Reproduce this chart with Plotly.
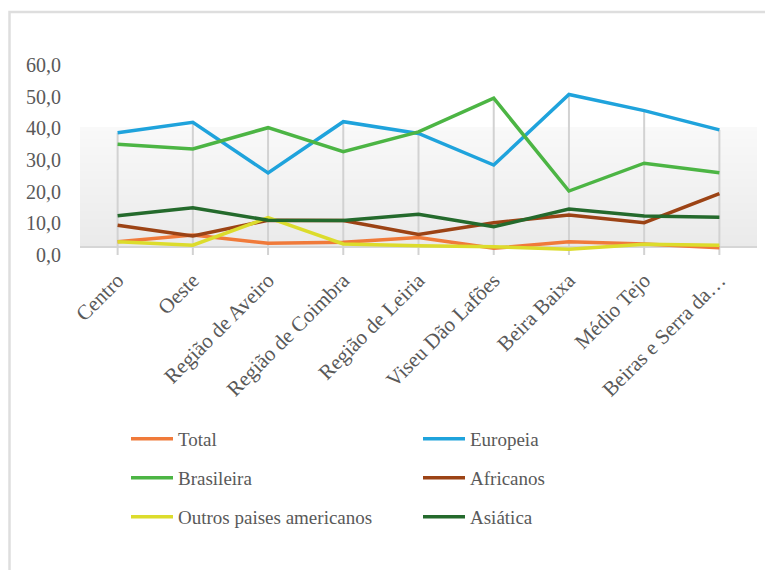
import plotly.graph_objects as go

categories = ["Centro", "Oeste", "Região de Aveiro", "Região de Coimbra", "Região de Leiria",
              "Viseu Dão Lafões", "Beira Baixa", "Médio Tejo", "Beiras e Serra da…"]
total = [4.2, 6.3, 3.7, 4.0, 5.5, 2.1, 4.2, 3.5, 2.3]
europeia = [38.6, 41.9, 25.9, 42.1, 38.4, 28.4, 50.7, 45.6, 39.5]
brasileira = [35.0, 33.5, 40.2, 32.6, 38.9, 49.5, 20.2, 29.0, 26.0]
africanos = [9.4, 6.0, 11.0, 10.9, 6.5, 10.2, 12.6, 10.2, 19.4]
outros = [4.2, 3.1, 11.8, 3.5, 2.9, 2.6, 1.8, 3.4, 3.1]
asiatica = [12.4, 14.9, 11.0, 10.9, 12.9, 8.9, 14.5, 12.3, 11.9]
y_tick_values = [0, 10, 20, 30, 40, 50, 60]
y_tick_labels = ["0,0", "10,0", "20,0", "30,0", "40,0", "50,0", "60,0"]

series = [
    ("Total", total, "#F07A3A", "legend"),
    ("Europeia", europeia, "#1FA3DC", "legend"),
    ("Brasileira", brasileira, "#4CB544", "legend2"),
    ("Africanos", africanos, "#9C4315", "legend2"),
    ("Outros paises americanos", outros, "#DCDC2C", "legend3"),
    ("Asiática", asiatica, "#246A2C", "legend3"),
]

# the page body adds an 8px offset; all layout pixel targets are in page coords minus 8
OFF = 8
W, H = 773, 570
plot_left, plot_right = 80 - OFF, 757 - OFF
plot_top, plot_bot = 59 - OFF, 257 - OFF
L, R, T, B = plot_left, W - plot_right, plot_top, H - plot_bot
plot_h = plot_bot - plot_top
px_per_unit = 31.667 / 10
zero_px = 255 - OFF
y_lo = -(plot_bot - zero_px) / px_per_unit
y_hi = (zero_px - plot_top) / px_per_unit

FONT = "Liberation Serif, Tinos, 'Times New Roman', DejaVu Serif, serif"
TXT = "#595959"

fig = go.Figure()

# drop lines from each category's maximum down to zero
all_series = [s[1] for s in series]
dx, dy = [], []
for i, c in enumerate(categories):
    m = max(v[i] for v in all_series)
    dx += [c, c, None]
    dy += [0, m, None]
fig.add_trace(go.Scatter(x=dx, y=dy, mode="lines", line=dict(color="#d2d2d2", width=2),
                         showlegend=False, hoverinfo="skip"))

for name, vals, col, lg in series:
    fig.add_trace(go.Scatter(x=categories, y=vals, mode="lines", name=name,
                             line=dict(color=col, width=3.5), legend=lg))

# gradient band (plot-area shading)
shapes = []
band_top_px, band_bot_px = 127 - OFF, 247 - OFF
n = 30
c_top = (249, 249, 249)
c_bot = (234, 234, 234)
for k in range(n):
    p0 = band_top_px + (band_bot_px - band_top_px) * k / n
    p1 = band_top_px + (band_bot_px - band_top_px) * (k + 1) / n
    f = (k + 0.5) / n
    rgb = tuple(int(round(c_top[j] + (c_bot[j] - c_top[j]) * f)) for j in range(3))
    shapes.append(dict(type="rect", xref="paper", yref="y", x0=0, x1=1,
                       y0=(zero_px - p1) / px_per_unit, y1=(zero_px - p0) / px_per_unit,
                       line=dict(width=0), fillcolor="rgb(%d,%d,%d)" % rgb, layer="below"))
fl = (zero_px - band_bot_px) / px_per_unit
shapes.append(dict(type="line", xref="paper", yref="y", x0=0, x1=1, y0=fl, y1=fl,
                   line=dict(color="#d6d6d6", width=2), layer="below"))


def px_to_paper_x(p):
    return (p - OFF - plot_left) / (plot_right - plot_left)


def px_to_paper_y(p):
    return (plot_bot - (p - OFF)) / plot_h


# outer chart border (cropped by the image at right/bottom)
shapes.append(dict(type="rect", xref="paper", yref="paper",
                   x0=px_to_paper_x(9.5), x1=px_to_paper_x(800),
                   y0=px_to_paper_y(600), y1=px_to_paper_y(12),
                   line=dict(color="#dedede", width=2.5), fillcolor="rgba(0,0,0,0)", layer="below"))

leg_common = dict(orientation="h", xanchor="left", yanchor="middle",
                  x=px_to_paper_x(126), entrywidth=235, entrywidthmode="pixels",
                  font=dict(family=FONT, size=19, color=TXT), bgcolor="rgba(0,0,0,0)",
                  itemwidth=42, itemclick=False, itemdoubleclick=False)

fig.update_layout(
    width=W, height=H,
    margin=dict(l=L, r=R, t=T, b=B),
    paper_bgcolor="white", plot_bgcolor="white",
    font=dict(family=FONT, color=TXT),
    showlegend=True,
    legend=dict(leg_common, y=px_to_paper_y(439)),
    legend2=dict(leg_common, y=px_to_paper_y(478)),
    legend3=dict(leg_common, y=px_to_paper_y(517)),
    shapes=shapes,
    xaxis=dict(type="category", categoryorder="array", categoryarray=categories,
               range=[-0.5, len(categories) - 0.5], showgrid=False, zeroline=False,
               showline=False, ticks="", tickangle=-45, ticklabelstandoff=6,
               tickfont=dict(family=FONT, size=21, color=TXT)),
    yaxis=dict(range=[y_lo, y_hi], tickvals=y_tick_values, ticktext=y_tick_labels,
               showgrid=False, zeroline=False, showline=False, ticks="",
               ticklabelstandoff=18, tickfont=dict(family=FONT, size=20, color=TXT)),
    hovermode=False,
)

fig.write_html("out.html")
